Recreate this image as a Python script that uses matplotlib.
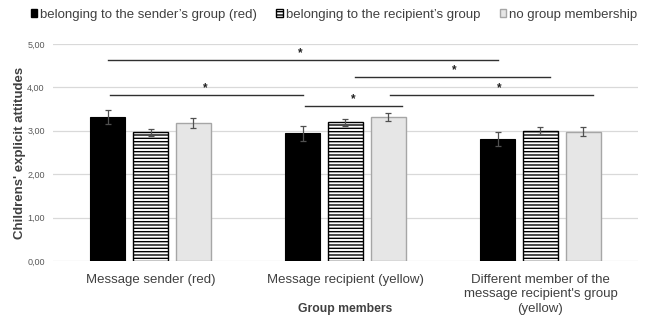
import matplotlib
matplotlib.use("Agg")
import matplotlib.pyplot as plt
import numpy as np
from matplotlib.patches import Patch

plt.rcParams['font.family'] = ['Liberation Sans', 'DejaVu Sans']
plt.rcParams['hatch.linewidth'] = 1.0

categories = ["Message sender (red)", "Message recipient (yellow)",
              "Different member of the\nmessage recipient's group\n(yellow)"]
series_names = ["belonging to the sender\u2019s group (red)",
                "belonging to the recipient\u2019s group",
                "no group membership"]
sender_vals = [3.31, 2.94, 2.81]
recipient_vals = [2.97, 3.20, 3.00]
none_vals = [3.18, 3.32, 2.98]
sender_err = [0.16, 0.17, 0.17]
recipient_err = [0.08, 0.08, 0.08]
none_err = [0.11, 0.10, 0.11]
yticks = [0, 1, 2, 3, 4, 5]
ytick_labels = ["0,00", "1,00", "2,00", "3,00", "4,00", "5,00"]

# significance brackets: (x start, x end, y level, star x)
sig_x0 = [-0.22, 1.05, -0.21, 1.23, 0.79]
sig_x1 = [1.78, 2.05, 0.78, 2.27, 1.29]
sig_y = [4.63, 4.24, 3.83, 3.83, 3.57]
sig_star = [0.77, 1.56, 0.28, 1.79, 1.04]

fig = plt.figure(figsize=(6.47, 3.16), dpi=100)
ax = fig.add_axes([0.082, 0.174, 0.904, 0.687])

x = np.arange(len(categories))
w = 0.18
off = 0.22
ekw = dict(ecolor='#505050', elinewidth=0.9, capsize=2, capthick=0.9)
ax.bar(x - off, sender_vals, w, yerr=sender_err, color='black', edgecolor='black',
       linewidth=0.8, error_kw=ekw, zorder=3)
ax.bar(x, recipient_vals, w, yerr=recipient_err, color='white', edgecolor='black',
       hatch='-----', linewidth=1.0, error_kw=ekw, zorder=3)
ax.bar(x + off, none_vals, w, yerr=none_err, color='#e6e6e6', edgecolor='#a6a6a6',
       linewidth=1.0, error_kw=ekw, zorder=3)

for x0, x1, yy, xs in zip(sig_x0, sig_x1, sig_y, sig_star):
    ax.plot([x0, x1], [yy, yy], color='#303030', linewidth=1.0, zorder=4)
    ax.text(xs, yy + 0.02, "*", ha='center', va='bottom', fontsize=8.5,
            fontweight='bold', color='#202020')

ax.set_xlim(-0.5, 2.5)
ax.set_ylim(0, 5)
ax.set_yticks(yticks)
ax.set_yticklabels(ytick_labels, fontsize=6.5, color='#595959')
ax.set_xticks(x)
ax.set_xticklabels(categories, fontsize=9.5, color='#404040', linespacing=1.3)
ax.tick_params(axis='both', length=0)
ax.tick_params(axis='x', pad=9)
ax.tick_params(axis='y', pad=6)
for s in ax.spines.values():
    s.set_visible(False)
ax.yaxis.grid(True, color='#d9d9d9', linewidth=0.9, zorder=0)
ax.set_axisbelow(True)

ax.set_ylabel("Childrens' explicit attitudes", fontsize=9.5, fontweight='bold',
              color='#404040', labelpad=1)
ax.set_xlabel("Group members", fontsize=8.7, fontweight='bold', color='#404040')
ax.xaxis.set_label_coords(0.5, -0.195)

handles = [Patch(facecolor='black', edgecolor='black'),
           Patch(facecolor='white', edgecolor='black', hatch='-----'),
           Patch(facecolor='#e6e6e6', edgecolor='#a6a6a6')]
fig.legend(handles, series_names, loc='upper center', bbox_to_anchor=(0.516, 1.01),
           ncol=3, frameon=False, fontsize=9.5, handlelength=0.5, handleheight=0.5,
           handletextpad=0.2, columnspacing=1.5, labelcolor='#404040')

fig.savefig("out.png", dpi=100)
